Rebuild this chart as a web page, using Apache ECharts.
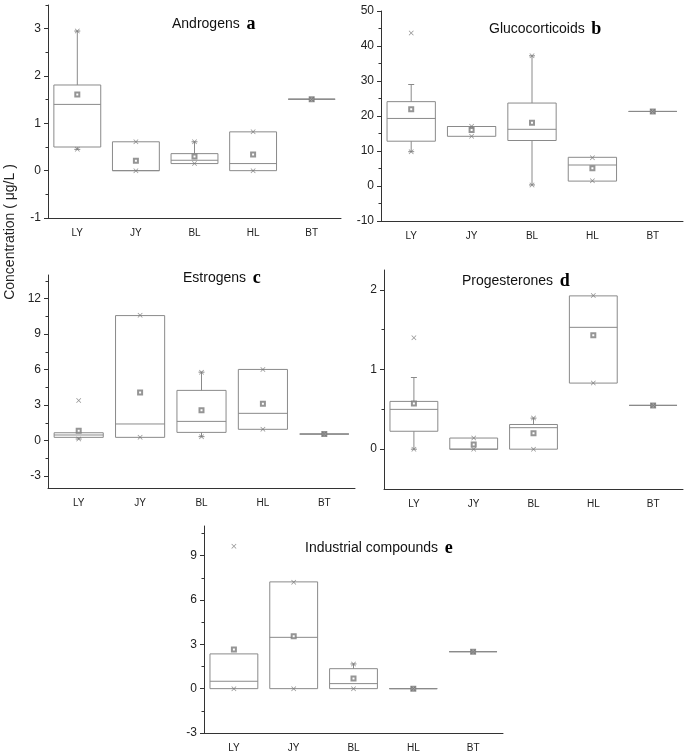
<!DOCTYPE html>
<html>
<head>
<meta charset="utf-8">
<script src="https://cdn.jsdelivr.net/npm/echarts@6/dist/echarts.min.js"></script>
<style>
html,body{margin:0;padding:0;background:#fff;}
#chart{width:685px;height:753px;}
</style>
</head>
<body>
<div id="chart"></div>
<script>
const categories = ['LY', 'JY', 'BL', 'HL', 'BT'];

// Box values: [lower whisker, Q1, median, Q3, upper whisker]
const androgensBox = [[0.45, 0.50, 1.40, 1.81, 2.95], [0, 0, 0, 0.61, 0.61], [0.15, 0.15, 0.22, 0.36, 0.61], [0, 0, 0.15, 0.82, 0.82], [1.51, 1.51, 1.51, 1.51, 1.51]];
const androgensMean = [1.61, 0.21, 0.30, 0.34, 1.51];
const androgensMin = [0.45, 0, 0.15, 0, 1.51];
const androgensMax = [2.95, 0.61, 0.61, 0.82, 1.51];

const glucoBox = [[9.8, 12.8, 19.3, 24.1, 29.0], [14.2, 14.2, 17.0, 17.0, 17.0], [0.3, 13.0, 16.2, 23.7, 37.2], [1.4, 1.4, 6.0, 8.2, 8.2], [21.3, 21.3, 21.3, 21.3, 21.3]];
const glucoMean = [21.9, 16.0, 18.1, 5.1, 21.3];
const glucoMin = [9.8, 14.2, 0.3, 1.5, 21.3];
const glucoMax = [43.7, 17.1, 37.2, 8.1, 21.3];

const estroBox = [[0.14, 0.28, 0.48, 0.67, 0.67], [0.28, 0.28, 1.41, 10.57, 10.57], [0.34, 0.70, 1.63, 4.25, 5.79], [0.96, 0.96, 2.31, 6.02, 6.02], [0.56, 0.56, 0.56, 0.56, 0.56]];
const estroMean = [0.84, 4.08, 2.56, 3.12, 0.56];
const estroMin = [0.14, 0.28, 0.34, 0.96, 0.56];
const estroMax = [3.4, 10.6, 5.79, 6.02, 0.56];

const progBox = [[0, 0.225, 0.50, 0.60, 0.90], [0, 0, 0, 0.14, 0.14], [0, 0, 0.27, 0.31, 0.39], [0.83, 0.83, 1.53, 1.925, 1.925], [0.55, 0.55, 0.55, 0.55, 0.55]];
const progMean = [0.575, 0.06, 0.20, 1.43, 0.55];
const progMin = [0, 0, 0, 0.83, 0.55];
const progMax = [1.40, 0.14, 0.39, 1.93, 0.55];

const indBox = [[0, 0, 0.50, 2.35, 2.35], [0, 0, 3.47, 7.22, 7.22], [0, 0, 0.34, 1.35, 1.67], [0, 0, 0, 0, 0], [2.50, 2.50, 2.50, 2.50, 2.50]];
const indMean = [2.64, 3.54, 0.68, 0, 2.50];
const indMin = [0, 0, 0, 0, 2.50];
const indMax = [9.63, 7.2, 1.67, 0, 2.50];

// Tick labels
const ticksA = [-1, 0, 1, 2, 3];
const minorA = [-0.5, 0.5, 1.5, 2.5, 3.5];
const ticksB = [-10, 0, 10, 20, 30, 40, 50];
const minorB = [-5, 5, 15, 25, 35, 45];
const ticksC = [-3, 0, 3, 6, 9, 12];
const minorC = [-1.5, 1.5, 4.5, 7.5, 10.5, 13.5];
const ticksD = [0, 1, 2];
const minorD = [0.5, 1.5];
const ticksE = [-3, 0, 3, 6, 9];
const minorE = [-1.5, 1.5, 4.5, 7.5, 10.5];

const panels = [
  { name: 'Androgens', letter: 'a', box: androgensBox, mean: androgensMean, mn: androgensMin, mx: androgensMax, ticks: ticksA, minor: minorA, min: -1, max: 3.5,
    grid: { left: 48, top: 5, width: 293, height: 213 }, title: [172, 24] },
  { name: 'Glucocorticoids', letter: 'b', box: glucoBox, mean: glucoMean, mn: glucoMin, mx: glucoMax, ticks: ticksB, minor: minorB, min: -10, max: 50,
    grid: { left: 381, top: 11, width: 302, height: 210 }, title: [489, 29] },
  { name: 'Estrogens', letter: 'c', box: estroBox, mean: estroMean, mn: estroMin, mx: estroMax, ticks: ticksC, minor: minorC, min: -4, max: 14,
    grid: { left: 48, top: 275, width: 307, height: 213 }, title: [183, 278] },
  { name: 'Progesterones', letter: 'd', box: progBox, mean: progMean, mn: progMin, mx: progMax, ticks: ticksD, minor: minorD, min: -0.5, max: 2.25,
    grid: { left: 384, top: 270, width: 299, height: 219 }, title: [462, 281] },
  { name: 'Industrial compounds', letter: 'e', box: indBox, mean: indMean, mn: indMin, mx: indMax, ticks: ticksE, minor: minorE, min: -3, max: 11,
    grid: { left: 204, top: 526, width: 299, height: 207 }, title: [305, 548] }
];

const AX = '#333';
const BOXC = '#8a8a8a';
const xMark = 'path://M0,1L1,0L5,4L9,0L10,1L6,5L10,9L9,10L5,6L1,10L0,9L4,5Z';

function renderBox(params, api) {
  const xi = api.value(0);
  const low = api.coord([xi, api.value(1)]);
  const q1 = api.coord([xi, api.value(2)]);
  const med = api.coord([xi, api.value(3)]);
  const q3 = api.coord([xi, api.value(4)]);
  const high = api.coord([xi, api.value(5)]);
  const band = api.size([1, 0])[0];
  const hw = band * 0.4;
  const cx = q1[0];
  const cap = 3;
  const st = { stroke: BOXC, lineWidth: 1, fill: null };
  const children = [];
  children.push({ type: 'rect', shape: { x: cx - hw, y: q3[1], width: hw * 2, height: Math.max(q1[1] - q3[1], 0) }, style: { stroke: BOXC, lineWidth: 1, fill: 'rgba(0,0,0,0)' } });
  children.push({ type: 'line', shape: { x1: cx - hw, y1: med[1], x2: cx + hw, y2: med[1] }, style: st });
  if (high[1] < q3[1] - 0.5) {
    children.push({ type: 'line', shape: { x1: cx, y1: q3[1], x2: cx, y2: high[1] }, style: st });
    children.push({ type: 'line', shape: { x1: cx - cap, y1: high[1], x2: cx + cap, y2: high[1] }, style: st });
  }
  if (low[1] > q1[1] + 0.5) {
    children.push({ type: 'line', shape: { x1: cx, y1: q1[1], x2: cx, y2: low[1] }, style: st });
    children.push({ type: 'line', shape: { x1: cx - cap, y1: low[1], x2: cx + cap, y2: low[1] }, style: st });
  }
  return { type: 'group', children: children };
}

const grid = [], xAxis = [], yAxis = [], series = [], graphic = [];
panels.forEach(function (p, i) {
  grid.push(p.grid);
  xAxis.push({
    type: 'category', gridIndex: i, data: categories, boundaryGap: true,
    axisLine: { onZero: false, lineStyle: { color: AX, width: 1 } },
    axisTick: { alignWithLabel: true, length: 4, lineStyle: { color: AX } },
    axisLabel: { fontSize: 10, color: '#222', margin: 10, fontFamily: 'Liberation Sans' },
    splitLine: { show: false }
  });
  yAxis.push({
    type: 'value', gridIndex: i, min: p.min, max: p.max,
    axisLine: { show: true, onZero: false, lineStyle: { color: AX, width: 1 } },
    axisTick: { show: true, length: 4, customValues: p.ticks, lineStyle: { color: AX } },
    axisLabel: { fontSize: 12, color: '#222', margin: 7, customValues: p.ticks, fontFamily: 'Liberation Sans' },
    splitLine: { show: false }
  });
  yAxis.push({
    type: 'value', gridIndex: i, min: p.min, max: p.max, position: 'left',
    axisLine: { show: false, onZero: false },
    axisTick: { show: true, length: 2.5, customValues: p.minor, lineStyle: { color: AX } },
    axisLabel: { show: false },
    splitLine: { show: false }
  });
  const yi = i * 2;
  series.push({
    type: 'custom', xAxisIndex: i, yAxisIndex: yi, renderItem: renderBox,
    encode: { x: 0, y: [1, 2, 3, 4, 5] },
    data: p.box.map(function (b, k) { return [k].concat(b); }),
    silent: true, z: 2
  });
  series.push({
    type: 'scatter', xAxisIndex: i, yAxisIndex: yi, symbol: 'emptyRect', symbolSize: 4,
    itemStyle: { color: '#7a7a7a', borderWidth: 0.7 },
    data: p.mean.map(function (v, k) { return [k, v]; }), silent: true, z: 3
  });
  const ext = [];
  p.mn.forEach(function (v, k) { ext.push([k, v]); });
  p.mx.forEach(function (v, k) { ext.push([k, v]); });
  series.push({
    type: 'scatter', xAxisIndex: i, yAxisIndex: yi, symbol: xMark, symbolSize: 5,
    itemStyle: { color: '#777' },
    data: ext, silent: true, z: 3
  });
  graphic.push({
    type: 'text', x: p.title[0], y: p.title[1],
    style: {
      text: '{n|' + p.name + '}  {l|' + p.letter + '}',
      verticalAlign: 'middle', align: 'left',
      rich: {
        n: { fontSize: 14, fontFamily: 'Liberation Sans', fill: '#111', color: '#111' },
        l: { fontSize: 18, fontFamily: 'Liberation Serif', fontWeight: 'bold', fill: '#000', color: '#000' }
      }
    }
  });
});

graphic.push({
  type: 'text', x: 10, y: 232, rotation: Math.PI / 2,
  style: { text: 'Concentration ( μg/L )', fontSize: 14, fontFamily: 'Liberation Sans', fill: '#222', align: 'center', verticalAlign: 'middle' }
});

const chart = echarts.init(document.getElementById('chart'), null, { renderer: 'canvas' });
chart.setOption({
  animation: false,
  backgroundColor: '#fff',
  grid: grid, xAxis: xAxis, yAxis: yAxis, series: series, graphic: graphic
});
</script>
</body>
</html>
